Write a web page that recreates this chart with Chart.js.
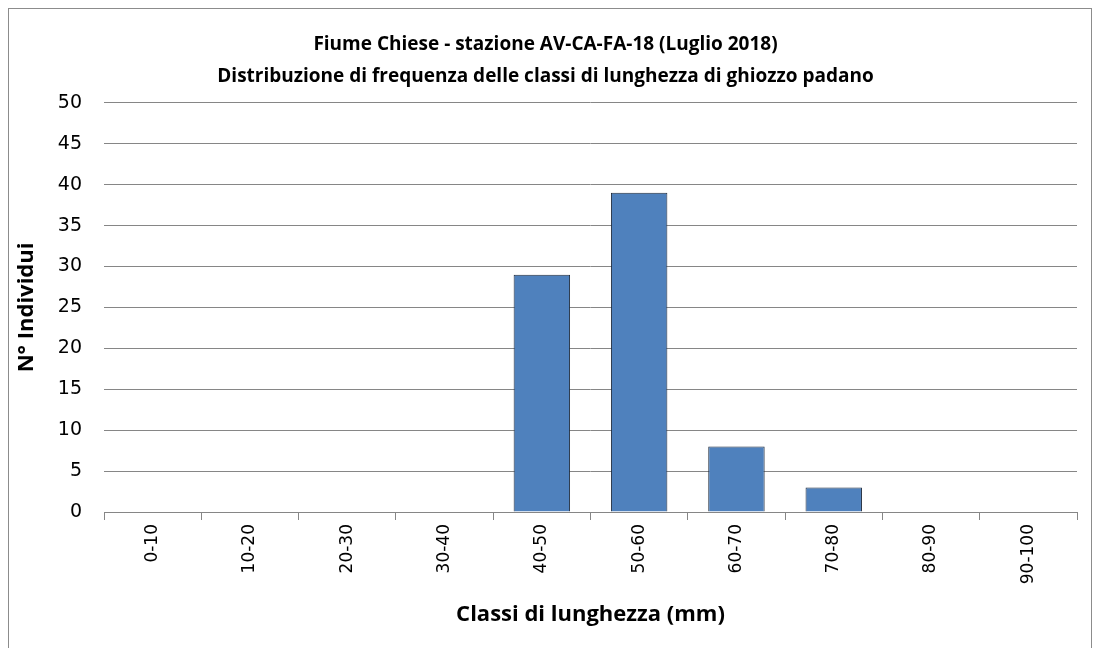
<!DOCTYPE html>
<html>
<head>
<meta charset="utf-8">
<script src="https://cdn.jsdelivr.net/npm/chart.js@4.4.0/dist/chart.umd.min.js"></script>
<style>
  html, body { margin: 0; padding: 0; background: #fff; }
  #wrap { width: 1098px; height: 648px; }
</style>
</head>
<body>
<div id="wrap"><canvas id="myChartLength" width="1098" height="648"></canvas></div>
<script>
const classLabels = ['0-10', '10-20', '20-30', '30-40', '40-50', '50-60', '60-70', '70-80', '80-90', '90-100'];
const individui = [0, 0, 0, 0, 29, 39, 8, 3, 0, 0];
const titleLines = ['Fiume Chiese - stazione AV-CA-FA-18 (Luglio 2018)', 'Distribuzione di frequenza delle classi di lunghezza di ghiozzo padano'];

const frameBorder = {
    id: 'frameBorder',
    afterDraw(chart) {
        const c = chart.ctx;
        c.save();
        c.strokeStyle = '#8c8c8c';
        c.lineWidth = 1;
        c.strokeRect(8.5, 8.5, 1083, 660);
        c.restore();
    }
};

const ctx = document.getElementById('myChartLength').getContext('2d');
new Chart(ctx, {
    type: 'bar',
    data: {
        labels: classLabels,
        datasets: [{
            label: 'N° Individui',
            data: individui,
            backgroundColor: '#4f81bd',
            borderColor: '#1f2b3c',
            borderWidth: 1,
            barPercentage: 0.58,
            categoryPercentage: 1.0
        }]
    },
    options: {
        responsive: false,
        animation: false,
        layout: { padding: { left: 14, right: 21, top: 29, bottom: 20 } },
        plugins: {
            legend: { display: false },
            tooltip: { enabled: false },
            title: {
                display: true,
                text: titleLines,
                color: '#000',
                font: { family: 'Open Sans', size: 19, weight: 'bold', lineHeight: 1.68 },
                padding: { top: 0, bottom: 10 }
            }
        },
        scales: {
            x: {
                afterFit(scale) { scale.height = 116; },
                grid: { display: true, drawOnChartArea: false, offset: true, color: '#868686', tickLength: 8 },
                border: { color: '#868686' },
                ticks: {
                    color: '#000',
                    font: { family: 'DejaVu Sans', size: 17 },
                    maxRotation: 90, minRotation: 90,
                    padding: 4
                },
                title: {
                    display: true,
                    text: 'Classi di lunghezza (mm)',
                    color: '#000',
                    font: { family: 'Open Sans', size: 22, weight: 'bold' },
                    padding: { top: 0, bottom: 0 }
                }
            },
            y: {
                min: 0, max: 50,
                afterFit(scale) { scale.width = 90; },
                grid: { color: '#868686', drawTicks: false },
                border: { display: false },
                ticks: {
                    stepSize: 5,
                    color: '#000',
                    font: { family: 'DejaVu Sans', size: 19 },
                    padding: 22
                },
                title: {
                    display: true,
                    text: 'N° Individui',
                    color: '#000',
                    font: { family: 'Open Sans', size: 22, weight: 'bold' },
                    padding: { top: 0, bottom: 0 }
                }
            }
        }
    },
    plugins: [frameBorder]
});
</script>
</body>
</html>
